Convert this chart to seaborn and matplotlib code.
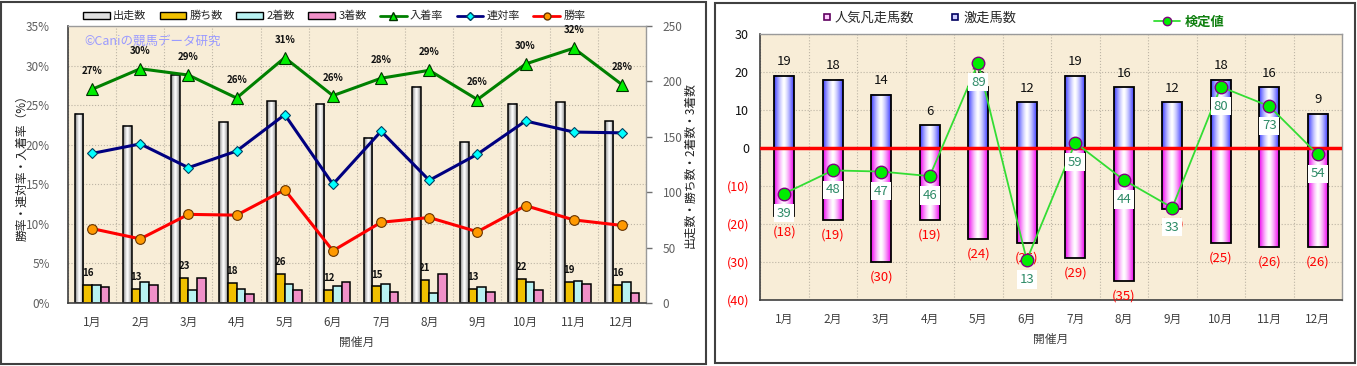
import numpy as np
import pandas as pd
import seaborn as sns
import matplotlib.pyplot as plt
from matplotlib.lines import Line2D
from matplotlib.patches import Patch, Rectangle
from matplotlib.colors import to_rgb

# month categories
months = ['1月', '2月', '3月', '4月', '5月', '6月', '7月', '8月', '9月', '10月', '11月', '12月']

# left chart: counts (right axis) and rates in % (left axis)
runs = [171, 160, 206, 163, 182, 180, 149, 195, 145, 180, 181, 164]
wins = [16, 13, 23, 18, 26, 12, 15, 21, 13, 22, 19, 16]
seconds = [16, 19, 12, 13, 17, 15, 17, 9, 14, 19, 20, 19]
thirds = [14, 16, 23, 8, 12, 19, 10, 26, 10, 12, 17, 9]
place_rate = [27.0, 29.6, 28.8, 25.9, 31.0, 26.2, 28.4, 29.4, 25.7, 30.2, 32.2, 27.6]
quinella_rate = [18.9, 20.1, 17.1, 19.2, 23.8, 15.0, 21.7, 15.5, 18.8, 23.0, 21.6, 21.5]
win_rate = [9.4, 8.1, 11.2, 11.1, 14.3, 6.6, 10.2, 10.8, 9.0, 12.3, 10.5, 9.8]

# right chart
hot = [19, 18, 14, 6, 16, 12, 19, 16, 12, 18, 16, 9]          # 激走馬数
flop = [18, 19, 30, 19, 24, 25, 29, 35, 16, 25, 26, 26]       # 人気凡走馬数
test_pos = [-12.0, -5.9, -6.2, -7.4, 22.4, -29.5, 1.4, -8.4, -15.7, 16.1, 11.0, -1.7]
test_vals = [39, 48, 47, 46, 89, 13, 59, 44, 33, 80, 73, 54]

sns.set_theme(style='white')
plt.rcParams['font.family'] = ['Noto Sans CJK JP', 'DejaVu Sans']

BG = '#f8edd7'
GRID = '#bdb5a5'


def shade(ax, bars, edge, power=1.6):
    # horizontal gradient: edge colour at the sides, white in the middle
    t = np.linspace(-1, 1, 64)
    w = np.abs(t) ** power
    c = np.array(to_rgb(edge))
    img = (np.ones(3)[None, :] * (1 - w[:, None]) + c[None, :] * w[:, None])[None, :, :]
    for b in bars:
        x, y, bw, bh = b.get_x(), b.get_y(), b.get_width(), b.get_height()
        ax.imshow(img, extent=[x, x + bw, min(y, y + bh), max(y, y + bh)],
                  aspect='auto', interpolation='bilinear', zorder=b.get_zorder() - 0.05)
        b.set_facecolor('none')


def style_spines(ax):
    for s in ['left', 'bottom']:
        ax.spines[s].set_color('#404040')
        ax.spines[s].set_linewidth(1.2)
    for s in ['top', 'right']:
        ax.spines[s].set_color('#9a9a9a')
        ax.spines[s].set_linewidth(1.0)


fig = plt.figure(figsize=(13.57, 3.66), dpi=100)
W, H = 1357, 366

# panel frames
fig.add_artist(Rectangle((1 / W, 2 / H), 705 / W, 362 / H, transform=fig.transFigure,
                         fill=False, ec='#404040', lw=1.5))
fig.add_artist(Rectangle((715 / W, 3 / H), 640 / W, 360 / H, transform=fig.transFigure,
                         fill=False, ec='#404040', lw=1.5))

# ---------------- left chart ----------------
axL = fig.add_axes([68 / W, 1 - 303 / H, 578 / W, 277 / H])
axL.set_facecolor(BG)
series = ['出走数', '勝ち数', '2着数', '3着数']
counts = pd.DataFrame({
    '月': months * 4,
    'value': runs + wins + seconds + thirds,
    '系列': [s for s in series for _ in months],
})
bar_colors = ['#e0e0e0', '#f0c000', '#b8f2f2', '#f090c8']
sns.barplot(data=counts, x='月', y='value', hue='系列', hue_order=series, palette=bar_colors,
            width=0.72, edgecolor='black', linewidth=1.1, saturation=1, errorbar=None,
            legend=False, ax=axL)
shade(axL, axL.containers[0], '#7a7a7a', power=1.3)

axR = axL.twinx()
pos = list(range(len(months)))
sns.lineplot(x=pos, y=place_rate, ax=axR, color='#008000', lw=2.2, marker='^', markersize=8,
             markerfacecolor='#00ee00', markeredgecolor='#003300', markeredgewidth=0.8, zorder=4)
sns.lineplot(x=pos, y=quinella_rate, ax=axR, color='#000080', lw=2.2, marker='D', markersize=5.5,
             markerfacecolor='#00ffff', markeredgecolor='#004060', markeredgewidth=0.8, zorder=4)
sns.lineplot(x=pos, y=win_rate, ax=axR, color='#ff0000', lw=2.2, marker='o', markersize=7,
             markerfacecolor='#ff9900', markeredgecolor='#663300', markeredgewidth=0.8, zorder=4)
axR.set_ylim(0, 35)
axR.set_yticks(range(0, 36, 5))
axR.set_yticklabels([f'{v}%' for v in range(0, 36, 5)])
axR.set_xlabel('')
axR.set_ylabel('')

axL.set_ylim(0, 250)
axL.set_yticks(range(0, 251, 50))
axL.set_xlim(-0.5, len(months) - 0.5)
axL.set_xlabel('')
axL.set_ylabel('')

# swap sides: counts on right, percentages on left
axL.yaxis.tick_right()
axR.yaxis.tick_left()
axL.tick_params(axis='y', right=True, length=4, width=1, color='#707070', pad=8,
                labelsize=8.5, labelcolor='#606060')
axR.tick_params(axis='y', left=False, right=False, pad=7, labelsize=8.5, labelcolor='#606060')
axL.tick_params(axis='x', length=0, pad=9, labelsize=8.5, labelcolor='#404040')
axR.tick_params(axis='x', length=0)

# grid behind bars, following the % ticks
for t in axR.get_yticks()[1:-1]:
    axL.axhline(t / 35 * 250, color=GRID, ls=':', lw=0.8, zorder=0)
axL.set_xticks(np.arange(-0.5, len(months), 1), minor=True)
axL.grid(which='minor', axis='x', color=GRID, ls=':', lw=0.8, zorder=0)
axL.tick_params(which='minor', length=0)
style_spines(axL)
for s in axR.spines.values():
    s.set_visible(False)

for i, v in enumerate(place_rate):
    axR.annotate(f'{round(v)}%', (i, v), xytext=(0, 13), textcoords='offset points',
                 ha='center', va='center', fontsize=7, fontweight='bold', color='#101010')
for i, v in enumerate(wins):
    b = axL.containers[1][i]
    axL.annotate(str(v), (b.get_x() + b.get_width() / 2, v), xytext=(0, 8.5),
                 textcoords='offset points', ha='center', va='center', fontsize=7,
                 fontweight='bold', color='#101010', zorder=0.9)

axL.text(0.028, 0.945, '©Caniの競馬データ研究', transform=axL.transAxes, fontsize=9,
         color='#9a9aff', va='center', ha='left')

fig.text(22 / W, 1 - 165 / H, '勝率・連対率・入着率（%）', rotation=90, ha='center', va='center',
         fontsize=8.5, color='#202020')
fig.text(690 / W, 1 - 165 / H, '出走数・勝ち数・2着数・3着数', rotation=90, ha='center', va='center',
         fontsize=8.5, color='#202020')
fig.text(357 / W, 1 - 342 / H, '開催月', ha='center', va='center', fontsize=8.5, color='#404040')

handles = [Patch(facecolor=c, edgecolor='black', lw=1) for c in bar_colors]
handles += [
    Line2D([], [], color='#008000', lw=2, marker='^', markersize=6,
           markerfacecolor='#00ee00', markeredgecolor='#003300'),
    Line2D([], [], color='#000080', lw=2, marker='D', markersize=4,
           markerfacecolor='#00ffff', markeredgecolor='#004060'),
    Line2D([], [], color='#ff0000', lw=2, marker='o', markersize=5,
           markerfacecolor='#ff9900', markeredgecolor='#663300'),
]
fig.legend(handles, series + ['入着率', '連対率', '勝率'], loc='center left',
           bbox_to_anchor=(83 / W, 1 - 16 / H), ncol=7, frameon=False, fontsize=8,
           handlelength=2.4, handleheight=0.55, handletextpad=0.3, columnspacing=1.2,
           borderaxespad=0, borderpad=0)

# ---------------- right chart ----------------
axB = fig.add_axes([760 / W, 1 - 300 / H, 582 / W, 266 / H])
axB.set_facecolor(BG)
sns.barplot(x=months, y=hot, color='#3a3aff', width=0.41, edgecolor='black', linewidth=1.3,
            saturation=1, errorbar=None, ax=axB)
sns.barplot(x=months, y=[-v for v in flop], color='#ff00ff', width=0.41, edgecolor='black',
            linewidth=1.3, saturation=1, errorbar=None, ax=axB)
shade(axB, axB.containers[0], '#3a3aff', power=1.4)
shade(axB, axB.containers[1], '#ee00ee', power=1.4)
axB.axhline(0, color='#ff0000', lw=2.5, zorder=3)
sns.lineplot(x=pos, y=test_pos, ax=axB, color='#33dd33', lw=1.3, marker='o', markersize=9,
             markerfacecolor='#00ee00', markeredgecolor='#800080', markeredgewidth=1, zorder=5)

axB.set_xlim(-0.5, len(months) - 0.5)
axB.set_ylim(-40, 30)
yt = list(range(-40, 31, 10))
axB.set_yticks(yt)
axB.set_yticklabels([f'({-v})' if v < 0 else str(v) for v in yt])
for lab, v in zip(axB.get_yticklabels(), yt):
    lab.set_color('#ff0000' if v < 0 else '#101010')
axB.tick_params(axis='y', length=0, pad=8, labelsize=9)
axB.tick_params(axis='x', length=0, pad=9, labelsize=8.5, labelcolor='#404040')
axB.set_xlabel('')
axB.set_ylabel('')
axB.set_xticks(np.arange(-0.5, len(months), 1), minor=True)
axB.grid(which='minor', axis='x', color=GRID, ls=':', lw=0.8, zorder=0)
axB.grid(which='major', axis='y', color=GRID, ls=':', lw=0.8, zorder=0)
axB.tick_params(which='minor', length=0)
axB.set_axisbelow(True)
style_spines(axB)

for i, v in enumerate(hot):
    axB.annotate(str(v), (i, v), xytext=(0, 10), textcoords='offset points', ha='center',
                 va='center', fontsize=9.5, color='#101010')
for i, v in enumerate(flop):
    axB.annotate(f'({v})', (i, -v), xytext=(0, -11), textcoords='offset points', ha='center',
                 va='center', fontsize=9.5, color='#ff0000')
for i, (p, v) in enumerate(zip(test_pos, test_vals)):
    axB.annotate(str(v), (i, p), xytext=(0, -14), textcoords='offset points', ha='center',
                 va='center', fontsize=9.5, color='#2e8b67', zorder=6,
                 bbox=dict(boxstyle='square,pad=0.2', fc='white', ec='none'))

fig.text(1051 / W, 1 - 339 / H, '開催月', ha='center', va='center', fontsize=8.5, color='#404040')

bar_handles = [
    Line2D([], [], ls='none', marker='s', markersize=5, markerfacecolor='#ffccff',
           markeredgecolor='#600060', markeredgewidth=1.2),
    Line2D([], [], ls='none', marker='s', markersize=5, markerfacecolor='#ccccff',
           markeredgecolor='#000060', markeredgewidth=1.2),
]
fig.legend(bar_handles, ['人気凡走馬数', '激走馬数'], loc='center left',
           bbox_to_anchor=(823 / W, 1 - 18 / H), ncol=2, frameon=False, fontsize=9.5,
           handlelength=0.6, handletextpad=0.3, columnspacing=2.8, borderaxespad=0, borderpad=0)
leg = fig.legend([Line2D([], [], color='#33dd33', lw=1.3, marker='o', markersize=6,
                         markerfacecolor='#00ee00', markeredgecolor='#800080')],
                 ['検定値'], loc='center left', bbox_to_anchor=(1154 / W, 1 - 22 / H),
                 frameon=False, fontsize=9.5, handlelength=2.0, handletextpad=0.3,
                 borderaxespad=0, borderpad=0)
for t in leg.get_texts():
    t.set_color('#108010')
    t.set_fontweight('bold')

fig.savefig('out.png', dpi=100)
